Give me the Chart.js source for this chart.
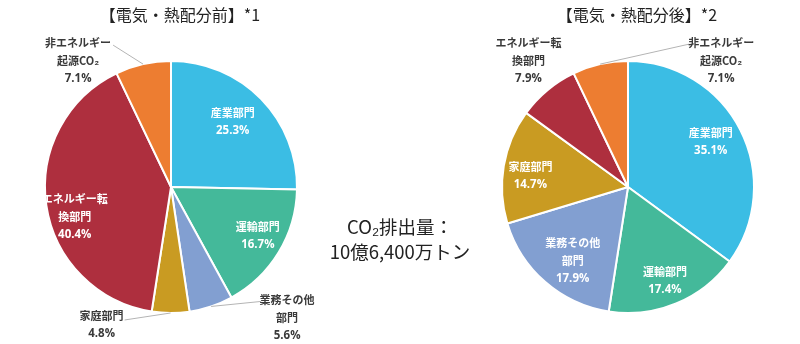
<!DOCTYPE html>
<html lang="ja">
<head>
<meta charset="utf-8">
<script src="https://cdn.jsdelivr.net/npm/chart.js@4"></script>
<style>
    html, body { margin: 0; padding: 0; background: #ffffff; overflow: hidden; }
    #wrap { position: relative; width: 800px; height: 344px; font-family: "Noto Sans CJK JP", sans-serif; color: #222; }
    .box { position: absolute; top: 0; width: 400px; height: 344px; }
    .title { position: absolute; top: 2px; font-size: 16px; line-height: 24px; white-space: nowrap; transform: translateX(-50%); }
    #total { position: absolute; left: 400px; top: 214px; transform: translateX(-50%); font-size: 18.5px; line-height: 25px; text-align: center; white-space: nowrap; }
</style>
</head>
<body>
<div id="wrap">
    <div class="box" style="left:0"><canvas id="beforeChart" width="400" height="344"></canvas></div>
    <div class="box" style="left:400px"><canvas id="afterChart" width="400" height="344"></canvas></div>
    <div class="title" style="left:180px">【電気・熱配分前】*1</div>
    <div class="title" style="left:637px">【電気・熱配分後】*2</div>
    <div id="total">CO₂排出量：<br>10億6,400万トン</div>
</div>
<script>
// ================== DATA ==================
const categories = ["産業部門", "運輸部門", "業務その他部門", "家庭部門", "エネルギー転換部門", "非エネルギー起源CO₂"];
const labelLines = [["産業部門"], ["運輸部門"], ["業務その他", "部門"], ["家庭部門"], ["エネルギー転", "換部門"], ["非エネルギー", "起源CO₂"]];
const beforeValues = [25.3, 16.7, 5.6, 4.8, 40.4, 7.1];
const afterValues = [35.1, 17.4, 17.9, 14.7, 7.9, 7.1];

const sliceColors = ["#3bbde4", "#44b99a", "#829fd1", "#c99b22", "#ae2f3e", "#ed7d31"];

// label placement: inside = polar (radius factor, angle shift in deg), outside = offset from slice edge
const beforeLabelPos = [
    { inside: true, r: 0.71, da: -2 },
    { inside: true, r: 0.79, da: -2 },
    { inside: false, tx: 76, ty: 11, lx: 50, ly: -5 },
    { inside: false, tx: -69, ty: 12, lx: -46, ly: 7 },
    { inside: true, r: 0.8, da: -9 },
    { inside: false, tx: -65, ty: -3, lx: -30, ly: -19 }
];
const afterLabelPos = [
    { inside: true, r: 0.75, da: -2 },
    { inside: true, r: 0.8, da: 1 },
    { inside: true, r: 0.73, da: -4 },
    { inside: true, r: 0.78, da: -3 },
    { inside: false, tx: -19, ty: -29, lx: null },
    { inside: false, tx: 121, ty: -3, lx: 89, ly: -20 }
];

document.addEventListener("DOMContentLoaded", () => {
    drawPie("beforeChart", beforeValues, beforeLabelPos, { left: 44, right: 102, top: 60, bottom: 30 });
    drawPie("afterChart", afterValues, afterLabelPos, { left: 101, right: 45, top: 60, bottom: 30 });
});

// ================== SLICE LABELS ==================
const sliceLabels = {
    id: "sliceLabels",
    afterDatasetsDraw(chart, args, opts) {
        const ctx = chart.ctx;
        const meta = chart.getDatasetMeta(0);
        const values = chart.data.datasets[0].data;
        const lineH = 18;

        meta.data.forEach((arc, i) => {
            const p = arc.getProps(["x", "y", "startAngle", "endAngle", "outerRadius"], true);
            const mid = (p.startAngle + p.endAngle) / 2;
            const pos = opts.positions[i];
            const lines = labelLines[i].concat([values[i].toFixed(1) + "%"]);
            let cx, cy;

            ctx.save();
            if (pos.inside) {
                const a = mid + pos.da * Math.PI / 180;
                cx = p.x + Math.cos(a) * p.outerRadius * pos.r;
                cy = p.y + Math.sin(a) * p.outerRadius * pos.r;
                ctx.fillStyle = "#ffffff";
            } else {
                const ex = p.x + Math.cos(mid) * p.outerRadius;
                const ey = p.y + Math.sin(mid) * p.outerRadius;
                cx = ex + pos.tx;
                cy = ey + pos.ty;
                if (pos.lx !== null) {
                    ctx.strokeStyle = "#b4b4b4";
                    ctx.lineWidth = 1;
                    ctx.beginPath();
                    ctx.moveTo(ex, ey);
                    ctx.lineTo(ex + pos.lx, ey + pos.ly);
                    ctx.stroke();
                }
                ctx.fillStyle = "#3a3a3a";
            }
            ctx.textAlign = "center";
            ctx.textBaseline = "middle";
            const top = cy - (lines.length - 1) * lineH / 2;
            lines.forEach((t, k) => {
                // percent line uses a wider latin face, like the original
                ctx.font = k === lines.length - 1
                    ? 'bold 11.5px "Open Sans", sans-serif'
                    : 'bold 11px "Noto Sans CJK JP", sans-serif';
                ctx.fillText(t, cx, top + k * lineH);
            });
            ctx.restore();
        });
    }
};

// ================== PIE CHART ==================
function drawPie(canvasId, values, positions, padding) {
    const ctx = document.getElementById(canvasId).getContext("2d");

    return new Chart(ctx, {
        type: "pie",
        data: {
            labels: categories,
            datasets: [{
                data: values,
                backgroundColor: sliceColors,
                borderColor: "#ffffff",
                borderWidth: 2
            }]
        },
        options: {
            responsive: false,
            animation: false,
            layout: { padding: padding },
            plugins: {
                legend: { display: false },
                tooltip: { enabled: false },
                sliceLabels: { positions: positions }
            }
        },
        plugins: [sliceLabels]
    });
}
</script>
</body>
</html>
